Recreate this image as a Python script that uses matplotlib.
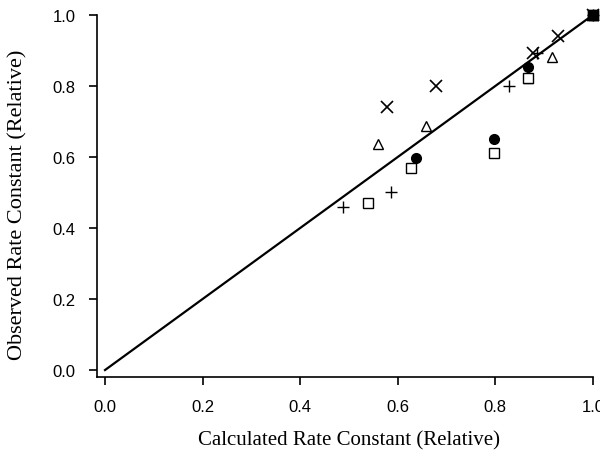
import numpy as np
import matplotlib
matplotlib.use('Agg')
import matplotlib.pyplot as plt

# calculated vs observed rate constants (relative), one list pair per marker set
calc_x = [0.578, 0.678, 0.878, 0.928, 1.0]
obs_x = [0.741, 0.800, 0.892, 0.942, 1.0]

calc_tri = [0.559, 0.658, 0.867, 0.917, 1.0]
obs_tri = [0.637, 0.688, 0.823, 0.881, 1.0]

calc_circ = [0.637, 0.797, 0.867, 1.0]
obs_circ = [0.598, 0.651, 0.853, 1.0]

calc_sq = [0.538, 0.627, 0.797, 0.867, 1.0]
obs_sq = [0.470, 0.568, 0.610, 0.823, 1.0]

calc_plus = [0.487, 0.586, 0.828, 0.885, 1.0]
obs_plus = [0.458, 0.500, 0.801, 0.893, 1.0]

line_x = [0.0, 1.0]
line_y = [0.0, 1.0]

ticks = [0.0, 0.2, 0.4, 0.6, 0.8, 1.0]
tick_labels = ['0.0', '0.2', '0.4', '0.6', '0.8', '1.0']

fig = plt.figure(figsize=(6, 4.56), dpi=100)
ax = fig.add_axes([0.1617, 0.171, 0.8265, 0.794])

ax.plot(line_x, line_y, color='black', lw=1.6, zorder=2)

ax.plot(calc_x, obs_x, 'x', color='black', ms=8.5, mew=1.2, clip_on=False, zorder=3)
ax.plot(calc_tri, obs_tri, '^', color='black', mfc='white', ms=7.5, mew=1.0, clip_on=False, zorder=3)
ax.plot(calc_sq, obs_sq, 's', color='black', mfc='white', ms=7, mew=1.0, clip_on=False, zorder=3)
ax.plot(calc_circ, obs_circ, 'o', color='black', ms=7, clip_on=False, zorder=4)
ax.plot(calc_plus, obs_plus, '+', color='black', ms=9, mew=1.0, clip_on=False, zorder=3)
# the (1,1) point shows as a filled square
ax.plot([1.0], [1.0], 's', color='black', ms=7, clip_on=False, zorder=5)

ax.set_xlim(-0.0164, 1.0)
ax.set_ylim(-0.0197, 1.0)

for s in ['top', 'right']:
    ax.spines[s].set_visible(False)
for s in ['left', 'bottom']:
    ax.spines[s].set_linewidth(1.2)

ax.set_xticks(ticks)
ax.set_xticklabels(tick_labels)
ax.set_yticks(ticks)
ax.set_yticklabels(tick_labels)
ax.tick_params(direction='out', length=6, width=1.2, labelsize=12, pad=9.5)
for lab in ax.get_xticklabels() + ax.get_yticklabels():
    lab.set_fontfamily('Liberation Sans')

ax.set_xlabel('Calculated Rate Constant (Relative)', fontfamily='Liberation Serif', fontsize=15)
ax.set_ylabel('Observed Rate Constant (Relative)', fontfamily='Liberation Serif', fontsize=16)
ax.xaxis.set_label_coords(0.581, 1 - 441 / 456, transform=fig.transFigure)
ax.yaxis.set_label_coords(18 / 600, 1 - 205 / 456, transform=fig.transFigure)
ax.xaxis.label.set_va('center')
ax.yaxis.label.set_va('center')

fig.savefig('out.png', dpi=100)
